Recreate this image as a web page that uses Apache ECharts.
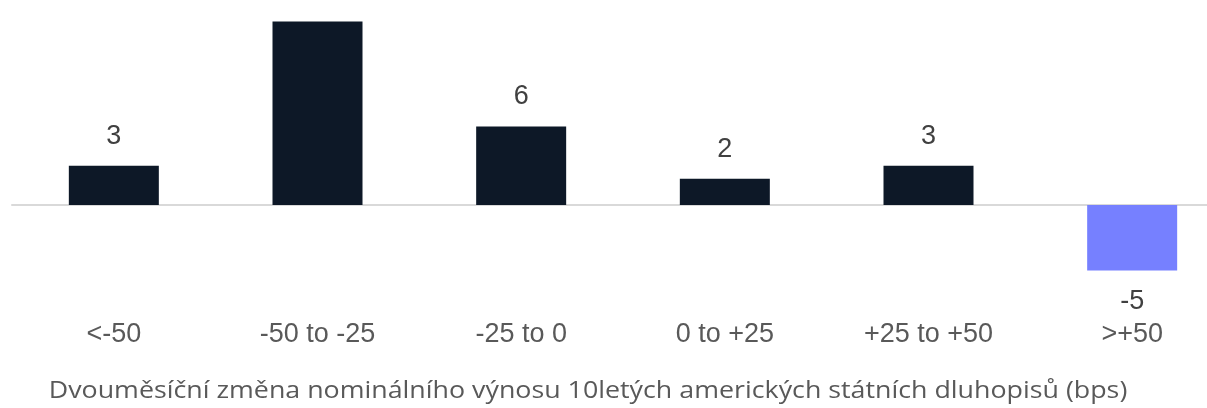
<!DOCTYPE html>
<html>
<head>
<meta charset="utf-8">
<script src="https://cdn.jsdelivr.net/npm/echarts@6/dist/echarts.min.js"></script>
<style>html,body{margin:0;padding:0;background:#fff}#c{width:1207px;height:408px}</style>
</head>
<body>
<div id="c"></div>
<script>
var categories = ['<-50', '-50 to -25', '-25 to 0', '0 to +25', '+25 to +50', '>+50'];
var values = [3, 14, 6, 2, 3, -5];
var axisTitle = 'Dvouměsíční změna nominálního výnosu 10letých amerických státních dluhopisů (bps)';

var chart = echarts.init(document.getElementById('c'), null, {renderer: 'canvas'});
var data = values.map(function (v) {
  var neg = v < 0;
  return {
    value: v,
    itemStyle: {color: neg ? '#7680ff' : '#0d1827'},
    label: {position: neg ? 'bottom' : 'top', distance: neg ? 18 : 16}
  };
});
chart.setOption({
  animation: false,
  backgroundColor: '#fff',
  graphic: [{
    type: 'text',
    x: 588,
    y: 391,
    scaleX: 1.165,
    style: {
      text: axisTitle,
      fontFamily: 'Open Sans',
      fontSize: 23,
      fill: '#595959',
      align: 'center',
      verticalAlign: 'middle'
    }
  }],
  grid: {left: 12, right: -27, top: 8.5, bottom: 124.4, containLabel: false, outerBoundsMode: 'none'},
  xAxis: {
    type: 'category',
    data: categories,
    axisLine: {show: true, onZero: true, lineStyle: {color: '#d9d9d9', width: 2}},
    axisTick: {show: false},
    axisLabel: {margin: 37, fontFamily: 'Liberation Sans', fontSize: 27, color: '#595959', interval: 0},
    splitLine: {show: false}
  },
  yAxis: {type: 'value', min: -6, max: 15, show: false, splitLine: {show: false}},
  series: [{
    type: 'bar',
    data: data,
    barWidth: 90,
    label: {show: true, fontFamily: 'Liberation Sans', fontSize: 27, color: '#404040'}
  }]
});
</script>
</body>
</html>
